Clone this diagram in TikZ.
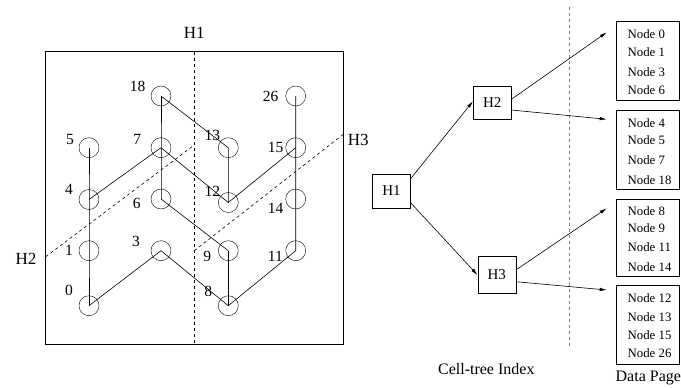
\documentclass[tikz,border=0pt]{standalone}
\usepackage{fontspec}
\setmainfont{Liberation Serif}
\usetikzlibrary{arrows.meta}
\begin{document}
\begin{tikzpicture}[x=1pt,y=-1pt,
  pt/.style={circle,draw,minimum size=20pt,inner sep=0pt},
  lbl/.style={font=\fontsize{15.5}{15.5}\selectfont,inner sep=0pt},
  hl/.style={font=\fontsize{17}{17}\selectfont,inner sep=0pt},
  link/.style={line width=0.6pt},
  idx/.style={draw,fill=white,font=\fontsize{15}{15}\selectfont,inner sep=0pt,minimum width=38pt,minimum height=34pt},
  page/.style={draw,minimum width=63pt,inner sep=0pt},
  ptext/.style={font=\fontsize{12.8}{12.8}\selectfont,inner sep=0pt,anchor=west},
  arr/.style={line width=0.6pt,-{Latex[length=7pt,width=3.5pt]}},
  captext/.style={font=\fontsize{16}{16}\selectfont,inner sep=0pt}]
\useasboundingbox (0,0) rectangle (681,388);
% grid box
\node[draw,line width=0.6pt,minimum width=297.6pt,minimum height=292.3pt,inner sep=0pt] (box) at (194.5,197.8) {};
\node[hl] (h1) at (194.3,33.3) {H1};
\coordinate (h1t) at (194.3,51.7);
\coordinate (h1b) at (194.3,344);
\draw[dashed,line width=0.6pt] (h1t) -- (h1b);
\node[hl] (h2) at (26,259) {H2};
\node[hl] (h3) at (358.3,140) {H3};
\coordinate (h2a) at (45.7,256.7);
\coordinate (h2b) at (194.3,145);
\coordinate (h3a) at (194.3,250.7);
\coordinate (h3b) at (343.3,134.3);
\draw[dashed,line width=0.6pt] (h2a) -- (h2b);
\draw[dashed,line width=0.6pt] (h3a) -- (h3b);
% points
\node[pt] (n0) at (89,305.7) {};
\node[pt] (n1) at (89,250.7) {};
\node[pt] (n4) at (89,199.5) {};
\node[pt] (n5) at (89,147.7) {};
\node[pt] (n3) at (161,250.7) {};
\node[pt] (n6) at (161,199) {};
\node[pt] (n7) at (161,147.7) {};
\node[pt] (n18) at (161,96) {};
\node[pt] (n8) at (228.3,305.7) {};
\node[pt] (n9) at (228.3,250.7) {};
\node[pt] (n12) at (228.3,202.5) {};
\node[pt] (n13) at (228.3,147.7) {};
\node[pt] (n11) at (295.7,250.7) {};
\node[pt] (n14) at (295.7,199) {};
\node[pt] (n15) at (295.7,147.7) {};
\node[pt] (n26) at (295.7,96) {};
% labels
\node[lbl] (l0) at (69,290.7) {0};
\node[lbl] (l1) at (69,250.7) {1};
\node[lbl] (l4) at (69,189.3) {4};
\node[lbl] (l5) at (70,139) {5};
\node[lbl] (l3) at (136,241) {3};
\node[lbl] (l6) at (136.7,203.3) {6};
\node[lbl] (l7) at (137.3,139) {7};
\node[lbl] (l18) at (137.7,86.7) {18};
\node[lbl] (l8) at (208.3,291) {8};
\node[lbl] (l9) at (207.3,256) {9};
\node[lbl] (l12) at (212.3,191) {12};
\node[lbl] (l13) at (212.3,135) {13};
\node[lbl] (l11) at (275.3,256) {11};
\node[lbl] (l14) at (275.7,208.3) {14};
\node[lbl] (l15) at (275.7,147.7) {15};
\node[lbl] (l26) at (270.7,96) {26};
% links
\draw[link] (n5.center) -- (n4.center) -- (n1.center) -- (n0.center);
\draw[link] (n0.center) -- (n3.center) -- (n8.center);
\draw[link] (n8.center) -- (n9.center);
\draw[link] (n9.center) -- (n6.center);
\draw[link] (n6.center) -- (n7.center) -- (n18.center);
\draw[link] (n18.center) -- (n13.center) -- (n12.center);
\draw[link] (n4.center) -- (n7.center) -- (n12.center) -- (n15.center);
\draw[link] (n8.center) -- (n11.center) -- (n14.center) -- (n15.center) -- (n26.center);
% index
\coordinate (vt) at (569,6.7);
\coordinate (vb) at (569,346.7);
\draw[dashed,gray,line width=0.8pt] (vt) -- (vb);
\node[idx] (H1) at (391.5,190.8) {H1};
\node[idx,minimum height=33pt] (H2) at (492.2,102.7) {H2};
\node[idx,minimum height=37pt] (H3) at (496.7,275) {H3};
% pages
\node[page,minimum height=78.3pt] (p1) at (647.5,60.8) {};
\node[page,minimum height=79pt] (p2) at (647.5,149.5) {};
\node[page,minimum height=77.7pt] (p3) at (647.5,237.8) {};
\node[page,minimum height=79.3pt] (p4) at (647.5,324.7) {};
\node[ptext] (t01) at (627.5,34) {Node 0};
\node[ptext] (t02) at (627.5,51.7) {Node 1};
\node[ptext] (t03) at (627.5,71.7) {Node 3};
\node[ptext] (t04) at (627.5,90) {Node 6};
\node[ptext] (t11) at (627.5,123.3) {Node 4};
\node[ptext] (t12) at (627.5,140) {Node 5};
\node[ptext] (t13) at (627.5,160) {Node 7};
\node[ptext] (t14) at (627.5,180) {Node 18};
\node[ptext] (t21) at (627.5,210.7) {Node 8};
\node[ptext] (t22) at (627.5,228.3) {Node 9};
\node[ptext] (t23) at (627.5,247.3) {Node 11};
\node[ptext] (t24) at (627.5,266.7) {Node 14};
\node[ptext] (t31) at (627.5,298.3) {Node 12};
\node[ptext] (t32) at (627.5,316.7) {Node 13};
\node[ptext] (t33) at (627.5,335) {Node 15};
\node[ptext] (t34) at (627.5,353.3) {Node 26};
% arrows
\coordinate (a1) at (606.7,32.3);
\coordinate (a2) at (606.7,119.3);
\coordinate (a3) at (606.7,208.3);
\coordinate (a4) at (606.7,290);
\draw[arr] ([yshift=-5pt]H1.north east) -- ([yshift=1.5pt]H2.west);
\draw[arr] ([yshift=-12pt]H1.east) -- (H3.west);
\draw[arr] ([yshift=3.4pt]H2.east) -- (a1);
\draw[arr] ([yshift=-7.3pt]H2.east) -- (a2);
\draw[arr] ([yshift=5pt]H3.east) -- (a3);
\draw[arr] ([yshift=-6.7pt]H3.east) -- (a4);
\node[captext] (ci) at (486.3,369) {Cell-tree Index};
\node[captext] (dp) at (648.3,378.3) {Data Page};
\end{tikzpicture}
\end{document}
